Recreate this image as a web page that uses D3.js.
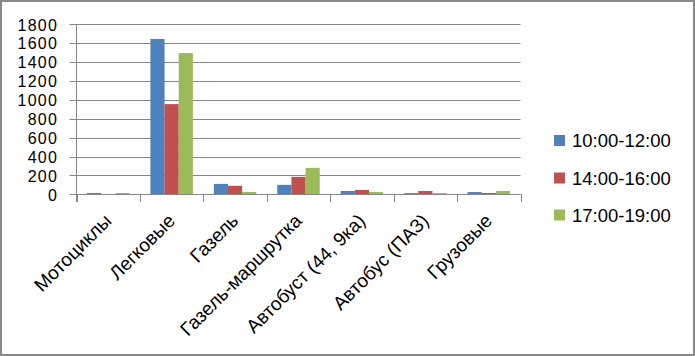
<!DOCTYPE html>
<html><head><meta charset="utf-8">
<script src="https://cdn.jsdelivr.net/npm/d3@7"></script>
<style>html,body{margin:0;padding:0;background:#fff;}svg{display:block;}</style>
</head><body>
<script>
const categories = ["Мотоциклы","Легковые","Газель","Газель-маршрутка","Автобуст (44, 9ка)","Автобус (ПАЗ)","Грузовые"];
const seriesNames = ["10:00-12:00","14:00-16:00","17:00-19:00"];
const s1 = [14, 1645, 110, 100, 35, 13, 24];
const s2 = [0, 955, 90, 185, 46, 35, 14];
const s3 = [14, 1495, 25, 280, 24, 13, 35];
const yTicks = [0,200,400,600,800,1000,1200,1400,1600,1800];
const colors = ["#4F81BD","#C0504D","#9BBB59"];
const seriesValues = [s1,s2,s3];

const W=695,H=356;
const svg=d3.select("body").append("svg").attr("width",W).attr("height",H);
svg.append("rect").attr("x",1).attr("y",1).attr("width",W-2).attr("height",H-2)
  .attr("fill","#fff").attr("stroke","#898989").attr("stroke-width",2);

const font="'Liberation Sans', Arial, sans-serif";
const grid="#868686";
const x0=d3.scaleBand().domain(categories).range([76.5,520.5]).padding(0);
const x1=d3.scaleBand().domain(seriesNames).range([0,x0.bandwidth()]).paddingInner(0).paddingOuter(0.74);
const y=d3.scaleLinear().domain([0,1800]).range([194.3,24.3]);

// gridlines
svg.append("g").selectAll("line").data(yTicks).join("line")
  .attr("x1",69.5).attr("x2",520.5)
  .attr("y1",d=>Math.round(y(d))+0.5).attr("y2",d=>Math.round(y(d))+0.5)
  .attr("stroke",grid).attr("stroke-width",1);

// y labels
svg.append("g").selectAll("text").data(yTicks).join("text")
  .attr("x",58).attr("y",d=>y(d)+0.5).attr("dy","0.36em")
  .attr("text-anchor","end").attr("font-family",font).attr("font-size",16).attr("letter-spacing","1.2px").attr("fill","#000")
  .text(d=>d);

// bars
const g=svg.append("g");
categories.forEach((c,i)=>{
  seriesNames.forEach((s,j)=>{
    const v=seriesValues[j][i];
    g.append("rect").attr("x",x0(c)+x1(s)).attr("width",x1.bandwidth())
      .attr("y",y(v)).attr("height",y(0)-y(v)).attr("fill",colors[j]);
  });
});

// axes lines
svg.append("line").attr("x1",76.5).attr("x2",76.5).attr("y1",24).attr("y2",202).attr("stroke",grid);
svg.append("line").attr("x1",76.5).attr("x2",520.5).attr("y1",194.5).attr("y2",194.5).attr("stroke",grid);
const tickXs=categories.map(c=>x0(c)).concat([x0.range()[1]]);
svg.append("g").selectAll("line").data(tickXs).join("line")
  .attr("x1",d=>Math.round(d)+0.5).attr("x2",d=>Math.round(d)+0.5)
  .attr("y1",194).attr("y2",202).attr("stroke",grid);

// x labels
svg.append("g").selectAll("text").data(categories).join("text")
  .attr("transform",c=>`translate(${x0(c)+x0.bandwidth()/2+4.5},${222}) rotate(-45)`)
  .attr("text-anchor","end").attr("font-family",font).attr("font-size",19).attr("fill","#000")
  .text(c=>c);

// legend
const ly=[140.5,178,215];
seriesNames.forEach((s,j)=>{
  svg.append("rect").attr("x",554).attr("y",ly[j]-5.5).attr("width",11).attr("height",11).attr("fill",colors[j]);
  svg.append("text").attr("x",572).attr("y",ly[j]).attr("dy","0.36em")
    .attr("font-family",font).attr("font-size",18.5).attr("fill","#000").text(s);
});
</script>
</body></html>
